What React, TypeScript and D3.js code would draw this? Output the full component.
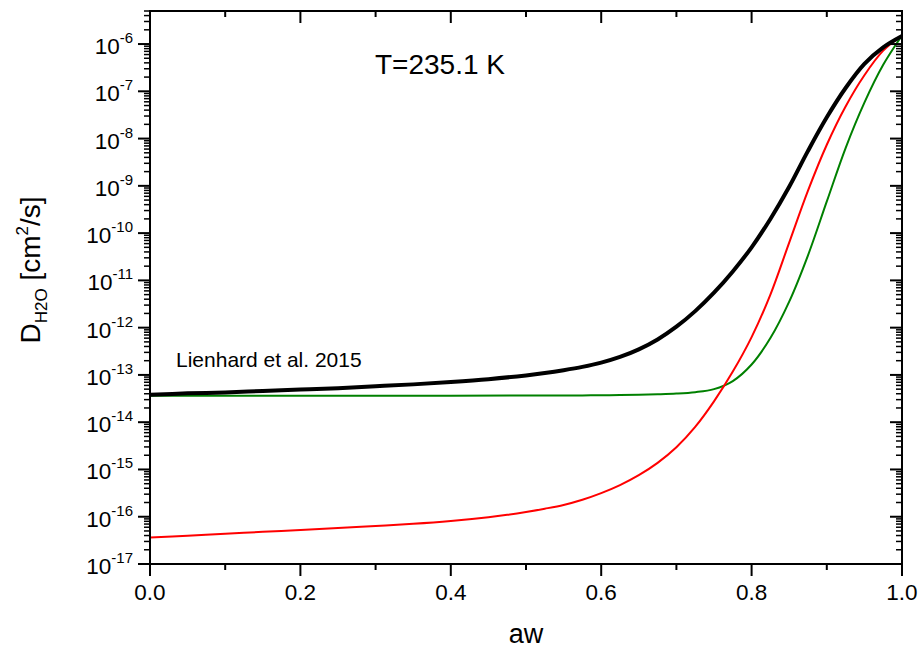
import React from "react";
import * as d3 from "d3";

// x values (water activity aw) and log10 of D_H2O [cm^2/s]
const awBlack = [0, 0.05, 0.1, 0.15, 0.2, 0.25, 0.3, 0.35, 0.4, 0.45, 0.5, 0.525, 0.55, 0.575, 0.6, 0.625, 0.65, 0.675, 0.7, 0.725, 0.75, 0.775, 0.8, 0.825, 0.85, 0.875, 0.9, 0.925, 0.95, 0.975, 1.0];
const logBlack = [-13.42, -13.39, -13.37, -13.34, -13.31, -13.28, -13.24, -13.2, -13.15, -13.09, -13.01, -12.96, -12.9, -12.83, -12.74, -12.62, -12.46, -12.25, -11.98, -11.65, -11.26, -10.81, -10.3, -9.7, -9.02, -8.26, -7.55, -6.93, -6.42, -6.07, -5.83];

const awRed = [0, 0.05, 0.1, 0.15, 0.2, 0.25, 0.3, 0.35, 0.4, 0.45, 0.475, 0.5, 0.525, 0.55, 0.575, 0.6, 0.625, 0.65, 0.675, 0.7, 0.725, 0.75, 0.775, 0.8, 0.825, 0.85, 0.875, 0.9, 0.925, 0.95, 0.975, 1.0];
const logRed = [-16.44, -16.4, -16.36, -16.32, -16.28, -16.24, -16.195, -16.15, -16.09, -16.01, -15.96, -15.9, -15.83, -15.75, -15.64, -15.5, -15.33, -15.12, -14.86, -14.53, -14.1, -13.56, -12.93, -12.2, -11.3, -10.2, -9.1, -8.13, -7.32, -6.66, -6.14, -5.82];

const awGreen = [0, 0.2, 0.4, 0.5, 0.55, 0.575, 0.6, 0.625, 0.65, 0.675, 0.7, 0.725, 0.75, 0.775, 0.8, 0.825, 0.85, 0.875, 0.9, 0.925, 0.95, 0.975, 1.0];
const logGreen = [-13.44, -13.44, -13.44, -13.437, -13.435, -13.433, -13.43, -13.426, -13.42, -13.41, -13.395, -13.365, -13.3, -13.13, -12.78, -12.22, -11.45, -10.47, -9.33, -8.2, -7.24, -6.44, -5.82];

const xTicks = [0, 0.2, 0.4, 0.6, 0.8, 1.0];
const xMinorTicks = [0.1, 0.3, 0.5, 0.7, 0.9];
const yExponents = [-17, -16, -15, -14, -13, -12, -11, -10, -9, -8, -7, -6];

const xLabel = "aw";
const annotationT = "T=235.1 K";
const annotationRef = "Lienhard et al. 2015";

const W = 920, H = 650;
const L = 150, R = 902, T = 11, B = 564;
const FONT = "'Liberation Sans', Arial, Helvetica, sans-serif";

export default function App() {
  const x = d3.scaleLinear().domain([0, 1]).range([L, R]);
  const y = d3.scaleLog().domain([1e-17, 5e-6]).range([B, T]);

  const line = d3
    .line<[number, number]>()
    .x((d) => x(d[0]))
    .y((d) => y(Math.pow(10, d[1])))
    .curve(d3.curveCatmullRom.alpha(0.5));

  const series = [
    { aw: awGreen, lg: logGreen, color: "#008000", w: 2 },
    { aw: awRed, lg: logRed, color: "#ff0000", w: 2 },
    { aw: awBlack, lg: logBlack, color: "#000000", w: 4 },
  ];

  const minorY: number[] = [];
  for (let e = -17; e <= -6; e++) {
    for (let m = 2; m <= 9; m++) {
      const v = m * Math.pow(10, e);
      if (v <= 5e-6) minorY.push(v);
    }
  }

  const majorLen = 12, minorLen = 6;

  return (
    <svg
      width={W}
      height={H}
      viewBox={`0 0 ${W} ${H}`}
      style={{ position: "absolute", left: 0, top: 0, background: "#fff" }}
      fontFamily={FONT}
    >
      <rect x={0} y={0} width={W} height={H} fill="#fff" />
      <defs>
        <clipPath id="plotClip">
          <rect x={L} y={T} width={R - L} height={B - T} />
        </clipPath>
      </defs>

      {/* curves */}
      <g clipPath="url(#plotClip)">
        {series.map((s, i) => (
          <path
            key={i}
            d={line(s.aw.map((a, j) => [a, s.lg[j]] as [number, number])) || ""}
            fill="none"
            stroke={s.color}
            strokeWidth={s.w}
            strokeLinejoin="round"
          />
        ))}
      </g>

      {/* frame */}
      <rect x={L} y={T} width={R - L} height={B - T} fill="none" stroke="#000" strokeWidth={2} />

      {/* x ticks: bottom outward, top inward */}
      {xTicks.map((t) => (
        <g key={"xt" + t}>
          <line x1={x(t)} x2={x(t)} y1={B} y2={B + majorLen} stroke="#000" strokeWidth={2} />
          <line x1={x(t)} x2={x(t)} y1={T} y2={T + majorLen} stroke="#000" strokeWidth={2} />
          <text x={x(t)} y={600} textAnchor="middle" fontSize={22.5} fill="#000">
            {t.toFixed(1)}
          </text>
        </g>
      ))}
      {xMinorTicks.map((t) => (
        <g key={"xm" + t}>
          <line x1={x(t)} x2={x(t)} y1={B} y2={B + minorLen} stroke="#000" strokeWidth={2} />
          <line x1={x(t)} x2={x(t)} y1={T} y2={T + minorLen} stroke="#000" strokeWidth={2} />
        </g>
      ))}

      {/* y ticks: left outward, right inward */}
      {yExponents.map((e) => {
        const yy = y(Math.pow(10, e));
        return (
          <g key={"yt" + e}>
            <line x1={L - majorLen} x2={L} y1={yy} y2={yy} stroke="#000" strokeWidth={2} />
            <line x1={R - majorLen} x2={R} y1={yy} y2={yy} stroke="#000" strokeWidth={2} />
            <text x={133} y={yy + 10} textAnchor="end" fontSize={22.5} fill="#000">
              <tspan>10</tspan>
              <tspan fontSize={15} dy={-11}>{String(e)}</tspan>
            </text>
          </g>
        );
      })}
      {minorY.map((v, i) => {
        const yy = y(v);
        return (
          <g key={"ym" + i}>
            <line x1={L - minorLen} x2={L} y1={yy} y2={yy} stroke="#000" strokeWidth={1.5} />
            <line x1={R - minorLen} x2={R} y1={yy} y2={yy} stroke="#000" strokeWidth={1.5} />
          </g>
        );
      })}

      {/* axis titles */}
      <text x={(L + R) / 2} y={643} textAnchor="middle" fontSize={27} fill="#000">
        {xLabel}
      </text>
      <text transform={`translate(40,270) rotate(-90)`} textAnchor="middle" fontSize={28} fill="#000">
        <tspan>D</tspan>
        <tspan fontSize={17} dy={7}>H2O</tspan>
        <tspan dy={-7}> [cm</tspan>
        <tspan fontSize={17} dy={-12}>2</tspan>
        <tspan dy={12}>/s]</tspan>
      </text>

      {/* annotations */}
      <text x={375} y={74} fontSize={28} fill="#000">
        {annotationT}
      </text>
      <text x={176} y={367} fontSize={21} fill="#000">
        {annotationRef}
      </text>
    </svg>
  );
}
